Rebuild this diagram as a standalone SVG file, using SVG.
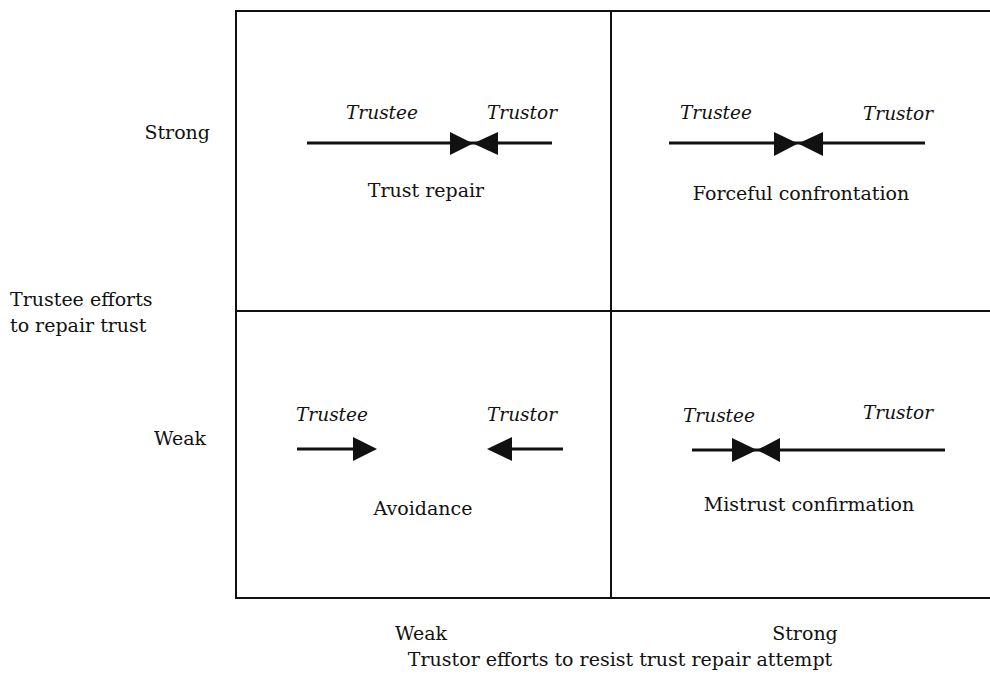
<svg xmlns="http://www.w3.org/2000/svg" width="990" height="675" viewBox="0 0 990 675">
<style>
.t{font-family:"DejaVu Serif","Liberation Serif",serif;font-size:19px;fill:#111}
.i{font-style:italic;font-size:18.5px}
.m{text-anchor:middle}
.e{text-anchor:end}
.ln{stroke:#111;stroke-width:2;fill:none}
.ar{stroke:#111;stroke-width:3;fill:none}
.hd{fill:#111}
</style>
<rect width="990" height="675" fill="#fff"/>
<g id="grid">
<path class="ln" d="M991,11 H236 V598 H991 M611,11 V598 M236,311 H991"/>
</g>
<g id="axes">
<text class="t e" x="210" y="139">Strong</text>
<text class="t" x="10" y="306">Trustee efforts</text>
<text class="t" x="10" y="332">to repair trust</text>
<text class="t e" x="206" y="445">Weak</text>
<text class="t m" x="421" y="640">Weak</text>
<text class="t m" x="805" y="640">Strong</text>
<text class="t m" x="620" y="666">Trustor efforts to resist trust repair attempt</text>
</g>
<g id="q-trust-repair">
<text class="t i m" x="382" y="119">Trustee</text>
<text class="t i m" x="522" y="119">Trustor</text>
<text class="t m" x="426" y="197">Trust repair</text>
</g>
<g id="q-forceful-confrontation">
<text class="t i m" x="716" y="119">Trustee</text>
<text class="t i m" x="898" y="120">Trustor</text>
<text class="t m" x="801" y="200">Forceful confrontation</text>
</g>
<g id="q-avoidance">
<text class="t i m" x="332" y="421">Trustee</text>
<text class="t i m" x="522" y="421">Trustor</text>
<text class="t m" x="423" y="515">Avoidance</text>
</g>
<g id="q-mistrust-confirmation">
<text class="t i m" x="719" y="422">Trustee</text>
<text class="t i m" x="898" y="419">Trustor</text>
<text class="t m" x="809" y="511">Mistrust confirmation</text>
</g>
<g id="connectors">
<path class="ar" d="M307,143 H552"/>
<polygon class="hd" points="450,132 473,143.5 450,155"/>
<polygon class="hd" points="498,132 473,143.5 498,155"/>
<path class="ar" d="M669,143 H925"/>
<polygon class="hd" points="774,132 798,143.5 774,156"/>
<polygon class="hd" points="823,132 798,143.5 823,156"/>
<path class="ar" d="M297,449 H355"/>
<polygon class="hd" points="353,437 377,449 353,461"/>
<path class="ar" d="M510,449 H563"/>
<polygon class="hd" points="512,437 487,449 512,461"/>
<path class="ar" d="M692,450 H945"/>
<polygon class="hd" points="732,438 757,450 732,462"/>
<polygon class="hd" points="780,438 757,450 780,462"/>
</g>
</svg>
